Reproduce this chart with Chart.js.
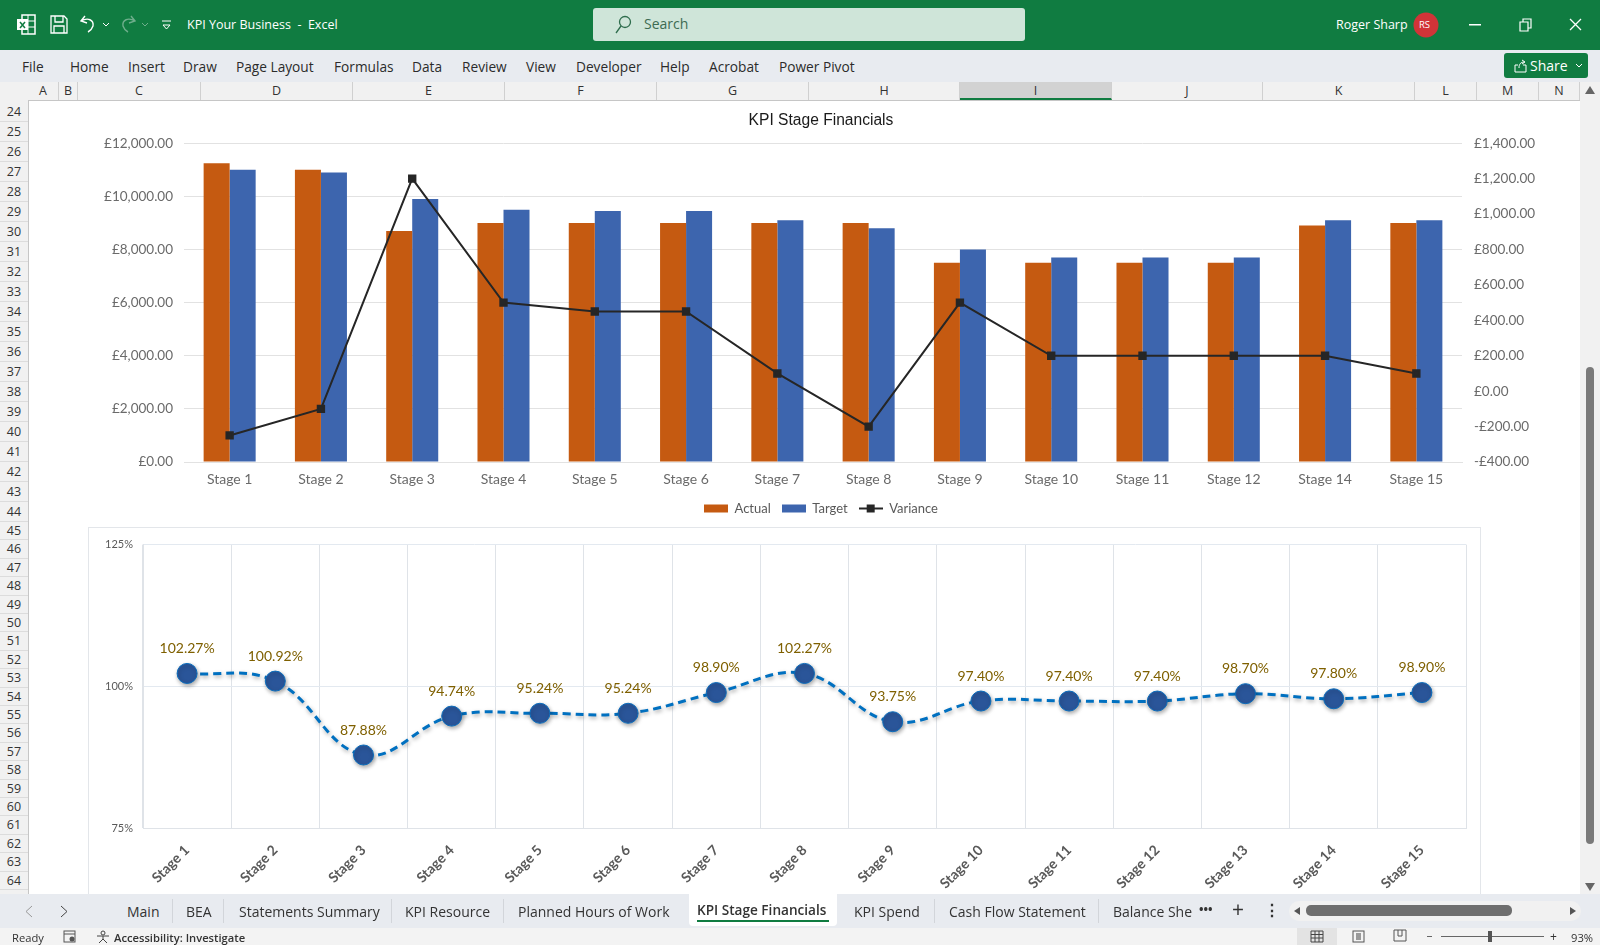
<!DOCTYPE html>
<html>
<head>
<meta charset="utf-8">
<title>KPI Stage Financials</title>
<script src="https://cdn.jsdelivr.net/npm/chart.js@4"></script>
<style>
html,body{margin:0;padding:0;background:#fff;}
body{position:relative;width:1600px;height:945px;overflow:hidden;font-family:"Open Sans",sans-serif;color:#333;}
.box{position:absolute;}
.t{position:absolute;white-space:nowrap;line-height:20px;font-size:14px;}
#top{left:0;top:0;width:1600px;height:50px;background:#107c41;}
#top .t{color:#fff;}
#ribbon{left:0;top:50px;width:1600px;height:32px;background:#e8ebf0;}
#ribbon .t{top:7px;font-size:13.7px;color:#2b2b2b;}
#search{left:593px;top:8px;width:432px;height:33px;background:#cfe5d9;border-radius:3px;}
#share{left:1504px;top:53px;width:84px;height:25px;background:#107c41;border-radius:3px;color:#fff;}
#cols{left:0;top:82px;width:1600px;height:18px;background:#f1f1f1;border-bottom:1px solid #c6c6c6;}
.col{position:absolute;top:0;height:18px;line-height:18px;font-size:12.5px;text-align:center;color:#333;border-right:1px solid #d0d0d0;box-sizing:border-box;}
#rows{left:0;top:100px;width:28px;height:794px;background:#f1f1f1;border-right:1px solid #c6c6c6;overflow:hidden;}
.row{position:absolute;left:0;width:28px;font-size:12.5px;text-align:center;color:#333;border-bottom:1px solid #dcdcdc;box-sizing:border-box;}
#vbar{left:1580px;top:82px;width:20px;height:812px;background:#f1f1f1;}
#thumb{left:1586px;top:367px;width:8px;height:477px;background:#7a7a7a;border-radius:4px;}
#c1wrap{left:30px;top:100px;width:1582px;height:425px;}
#c2wrap{left:88px;top:527px;width:1393px;height:372px;border:1px solid #e3e6ea;box-sizing:border-box;background:#fff;}
canvas{display:block;}
#tabs{left:0;top:894px;width:1600px;height:34px;background:#e8ebf0;}
#tabs .t{top:8px;font-size:14px;color:#333;}
#active{left:689px;top:-1px;width:148px;height:33px;background:#fff;border-radius:0 0 4px 4px;}
#status{left:0;top:928px;width:1600px;height:17px;background:#f3f3f3;}
#status .t{top:0;font-size:11.2px;color:#333;}
.sep{position:absolute;top:5px;width:1px;height:24px;background:#d2d5da;}
</style>
</head>
<body>

<div class="box" id="cols"></div>
<div class="box" id="rows"></div>
<div class="box" id="c1wrap"><canvas id="financials" width="1582" height="425"></canvas></div>
<div class="box" id="c2wrap"><canvas id="stages" width="1391" height="370"></canvas></div>
<div class="box" id="vbar"></div>
<div class="box" id="thumb"></div>
<svg class="box" style="left:1584px;top:85px" width="12" height="10"><path d="M6 1L11 9H1Z" fill="#666"/></svg>
<svg class="box" style="left:1584px;top:882px" width="12" height="10"><path d="M6 9L11 1H1Z" fill="#666"/></svg>

<div class="box" id="top">
  <svg class="box" style="left:16px;top:14px" width="20" height="22"><rect x="6" y="1" width="13" height="19" fill="none" stroke="#fff" stroke-width="1.5"/><path d="M6 7H19M6 13H19M12 1V20" stroke="#fff"/><rect x="1" y="5" width="11" height="11" fill="#fff"/><path d="M4 8l5 6M9 8l-5 6" stroke="#107c41" stroke-width="1.5"/></svg>
  <svg class="box" style="left:50px;top:15px" width="18" height="19"><path d="M1 1H14L17 4V18H1ZM5 1V7H13V1M4 18V11H14V18" fill="none" stroke="#fff" stroke-width="1.3"/></svg>
  <svg class="box" style="left:79px;top:14px" width="18" height="20"><path d="M6 2L2 7L8 9M2 7C9 3 15 6 14 12C13 15 11 17 9 18" fill="none" stroke="#fff" stroke-width="1.4"/></svg>
  <svg class="box" style="left:102px;top:22px" width="8" height="6"><path d="M1 1L4 4L7 1" fill="none" stroke="#fff"/></svg>
  <svg class="box" style="left:119px;top:14px" width="18" height="20"><path d="M12 2L16 7L10 9M16 7C9 3 3 6 4 12C5 15 7 17 9 18" fill="none" stroke="#6fae8c" stroke-width="1.4"/></svg>
  <svg class="box" style="left:141px;top:22px" width="8" height="6"><path d="M1 1L4 4L7 1" fill="none" stroke="#6fae8c"/></svg>
  <svg class="box" style="left:161px;top:20px" width="11" height="11"><path d="M1 1H10M2 5L5.500 9L9 5Z" fill="none" stroke="#fff"/></svg>
  <div class="t" style="left:187px;top:15px;font-size:12.5px">KPI Your Business&nbsp; - &nbsp;Excel</div>
  <div class="box" id="search">
    <svg class="box" style="left:21px;top:7px" width="18" height="20"><circle cx="11" cy="7" r="5.500" fill="none" stroke="#2f6d4d" stroke-width="1.3"/><path d="M7 11L2 18" stroke="#2f6d4d" stroke-width="1.3"/></svg>
    <div class="t" style="left:51px;top:6px;color:#3d6b52">Search</div>
  </div>
  <div class="t" style="left:1336px;top:15px;font-size:12.5px">Roger Sharp</div>
  <svg class="box" style="left:1413px;top:12px" width="26" height="26"><circle cx="13" cy="13" r="12.500" fill="#d13438"/></svg>
  <div class="t" style="left:1419px;top:15px;font-size:9.5px">RS</div>
  <svg class="box" style="left:1469px;top:24px" width="12" height="2"><rect width="12" height="1.500" fill="#fff"/></svg>
  <svg class="box" style="left:1519px;top:18px" width="13" height="14"><path d="M1 4H9V13H1ZM4 4V1H12V10H9" fill="none" stroke="#fff" stroke-width="1.200"/></svg>
  <svg class="box" style="left:1569px;top:18px" width="13" height="13"><path d="M1 1L12 12M12 1L1 12" stroke="#fff" stroke-width="1.300"/></svg>
</div>

<div class="box" id="ribbon">
  <div class="t" style="left:22px">File</div>
  <div class="t" style="left:70px">Home</div>
  <div class="t" style="left:128px">Insert</div>
  <div class="t" style="left:183px">Draw</div>
  <div class="t" style="left:236px">Page Layout</div>
  <div class="t" style="left:334px">Formulas</div>
  <div class="t" style="left:412px">Data</div>
  <div class="t" style="left:462px">Review</div>
  <div class="t" style="left:526px">View</div>
  <div class="t" style="left:576px">Developer</div>
  <div class="t" style="left:660px">Help</div>
  <div class="t" style="left:709px">Acrobat</div>
  <div class="t" style="left:779px">Power Pivot</div>
</div>
<div class="box" id="share">
  <svg class="box" style="left:10px;top:6px" width="14" height="14"><path d="M1 6H4M9 6H12V13H1V6M5 9C5 5 7 3 10 3M8 1L11 3L8 5" fill="none" stroke="#fff"/></svg>
  <div class="t" style="left:26px;top:3px;color:#fff">Share</div>
  <svg class="box" style="left:71px;top:10px" width="8" height="6"><path d="M1 1L4 4L7 1" fill="none" stroke="#fff"/></svg>
</div>

<div class="box" id="tabs">
  <svg class="box" style="left:25px;top:11px" width="8" height="13"><path d="M7 1L1 6.500L7 12" fill="none" stroke="#999"/></svg>
  <svg class="box" style="left:60px;top:11px" width="8" height="13"><path d="M1 1L7 6.500L1 12" fill="none" stroke="#444"/></svg>
  <div class="t" style="left:127px">Main</div><div class="sep" style="left:172px"></div>
  <div class="t" style="left:186px">BEA</div><div class="sep" style="left:223px"></div>
  <div class="t" style="left:239px">Statements Summary</div><div class="sep" style="left:391px"></div>
  <div class="t" style="left:405px">KPI Resource</div><div class="sep" style="left:503px"></div>
  <div class="t" style="left:518px">Planned Hours of Work</div>
  <div class="box" id="active"></div>
  <div class="t" style="left:697px;top:6px;font-weight:600;font-size:13.6px">KPI Stage Financials</div>
  <div class="box" style="left:697px;top:26px;width:132px;height:2px;background:#107c41"></div>
  <div class="t" style="left:854px">KPI Spend</div><div class="sep" style="left:934px"></div>
  <div class="t" style="left:949px">Cash Flow Statement</div><div class="sep" style="left:1098px"></div>
  <div class="t" style="left:1113px">Balance She</div>
  <div class="t" style="left:1199px;top:6px;font-size:12px;font-weight:700">•••</div>
  <div class="t" style="left:1232px;top:5px;font-size:21px">+</div>
  <div class="t" style="left:1264px;top:6px;font-size:16px;font-weight:700">⋮</div>
  <div class="box" style="left:1289px;top:7px;width:292px;height:20px;background:#f1f1f1;border-radius:10px"></div>
  <div class="box" style="left:1306px;top:11px;width:206px;height:11px;background:#6e6e6e;border-radius:5px"></div>
  <svg class="box" style="left:1293px;top:12px" width="8" height="10"><path d="M7 1L1 5L7 9Z" fill="#555"/></svg>
  <svg class="box" style="left:1569px;top:12px" width="8" height="10"><path d="M1 1L7 5L1 9Z" fill="#555"/></svg>
</div>

<div class="box" id="status">
  <div class="t" style="left:12px">Ready</div>
  <svg class="box" style="left:63px;top:2px" width="14" height="13"><rect x="1" y="1" width="11" height="11" fill="none" stroke="#555"/><path d="M1 4H12" stroke="#555"/><circle cx="9" cy="9" r="2.500" fill="#555"/></svg>
  <svg class="box" style="left:96px;top:2px" width="14" height="14"><circle cx="7" cy="3" r="2" fill="none" stroke="#444"/><path d="M1 6H13M7 6V9L3 13M7 9L11 13" fill="none" stroke="#444"/></svg>
  <div class="t" style="left:114px;font-weight:600">Accessibility: Investigate</div>
  <div class="box" style="left:1297px;top:0;width:40px;height:17px;background:#e3e3e3"></div>
  <svg class="box" style="left:1310px;top:2px" width="14" height="13"><path d="M1 1H13V12H1ZM1 4.500H13M1 8H13M5 1V12M9 1V12" fill="none" stroke="#444"/></svg>
  <svg class="box" style="left:1352px;top:2px" width="13" height="13"><rect x="1" y="1" width="11" height="11" fill="none" stroke="#555"/><rect x="4" y="3" width="5" height="7" fill="#999"/></svg>
  <svg class="box" style="left:1393px;top:1px" width="14" height="13"><path d="M1 1H13V12H1ZM5 1V7H9V1" fill="none" stroke="#555"/></svg>
  <div class="box" style="left:1427px;top:8px;width:5px;height:1px;background:#666"></div>
  <div class="box" style="left:1441px;top:8px;width:103px;height:1px;background:#666"></div>
  <div class="box" style="left:1488px;top:3px;width:4px;height:11px;background:#555"></div>
  <div class="t" style="left:1550px;top:-1px;font-size:12px">+</div>
  <div class="t" style="left:1571px">93%</div>
</div>

<script>
const stageLabels = ["Stage 1", "Stage 2", "Stage 3", "Stage 4", "Stage 5", "Stage 6", "Stage 7", "Stage 8", "Stage 9", "Stage 10", "Stage 11", "Stage 12", "Stage 14", "Stage 15"];
const actual = [11250, 11000, 8700, 9000, 9000, 9000, 9000, 9000, 7500, 7500, 7500, 7500, 8900, 9000];
const target = [11000, 10900, 9900, 9500, 9450, 9450, 9100, 8800, 8000, 7700, 7700, 7700, 9100, 9100];
const variance = [-250, -100, 1200, 500, 450, 450, 100, -200, 500, 200, 200, 200, 200, 100];

const kpiLabels = ["Stage 1", "Stage 2", "Stage 3", "Stage 4", "Stage 5", "Stage 6", "Stage 7", "Stage 8", "Stage 9", "Stage 10", "Stage 11", "Stage 12", "Stage 13", "Stage 14", "Stage 15"];
const kpiPercent = [102.27, 100.92, 87.88, 94.74, 95.24, 95.24, 98.90, 102.27, 93.75, 97.40, 97.40, 97.40, 98.70, 97.80, 98.90];
const kpiTicks = [75, 100, 125];

const colNames = ["A", "B", "C", "D", "E", "F", "G", "H", "I", "J", "K", "L", "M", "N"];
const colEdges = [28, 59, 78, 201, 353, 505, 657, 809, 960, 1112, 1263, 1415, 1477, 1539, 1580];

// sheet headers
const cols = document.getElementById("cols");
colNames.forEach((name, i) => {
  const d = document.createElement("div");
  d.className = "col";
  d.textContent = name;
  d.style.left = colEdges[i] + "px";
  d.style.width = colEdges[i + 1] - colEdges[i] + "px";
  if (name === "I") {
    d.style.background = "#d2d2d2";
    d.style.borderBottom = "2px solid #107c41";
  }
  cols.appendChild(d);
});
// rows 24-44 are taller than the ones below
const rows = document.getElementById("rows");
let rowTop = 2;
for (let r = 24; r <= 65; r++) {
  const h = r <= 44 ? 20 : 18.4;
  const d = document.createElement("div");
  d.className = "row";
  d.textContent = r;
  d.style.top = rowTop + "px";
  d.style.height = h + "px";
  d.style.lineHeight = h + "px";
  rows.appendChild(d);
  rowTop += h;
}

function pounds(v) {
  const s = "£" + Math.abs(v).toLocaleString("en-GB", { minimumFractionDigits: 2 });
  return v < 0 ? "-" + s : s;
}

function swatch(draw) {
  const c = document.createElement("canvas");
  c.width = 24;
  c.height = 10;
  draw(c.getContext("2d"));
  return c;
}

const ORANGE = "#c55a11";
const BLUE = "#3d65ae";
const DARK = "#262626";
const legendIcons = [
  swatch((g) => { g.fillStyle = ORANGE; g.fillRect(0, 1, 24, 8); }),
  swatch((g) => { g.fillStyle = BLUE; g.fillRect(0, 1, 24, 8); }),
  swatch((g) => { g.fillStyle = DARK; g.fillRect(0, 4, 24, 2); g.fillRect(8, 1, 8, 8); }),
];

const axisFont = { family: "Lato", size: 13.5 };

new Chart(document.getElementById("financials"), {
  data: {
    labels: stageLabels,
    datasets: [
      { type: "line", label: "Variance", data: variance, yAxisID: "y2", order: 0, borderColor: DARK, borderWidth: 2, tension: 0,
        pointStyle: "rect", pointRadius: 4.5, pointBackgroundColor: DARK, pointBorderColor: DARK },
      { type: "bar", label: "Actual", data: actual, yAxisID: "y", order: 1, backgroundColor: ORANGE, categoryPercentage: 0.57, barPercentage: 1 },
      { type: "bar", label: "Target", data: target, yAxisID: "y", order: 2, backgroundColor: BLUE, categoryPercentage: 0.57, barPercentage: 1 },
    ],
  },
  options: {
    responsive: false,
    animation: false,
    layout: { padding: 0 },
    plugins: {
      tooltip: { enabled: false },
      title: {
        display: true,
        text: "KPI Stage Financials",
        color: "#1a1a1a",
        font: { family: "Liberation Sans", size: 15.6, weight: "normal" },
        padding: { top: 11, bottom: 13.5 },
      },
      legend: {
        position: "bottom",
        labels: {
          color: "#595959",
          font: { family: "Lato", size: 13 },
          usePointStyle: true,
          pointStyleWidth: 24,
          padding: 11,
          generateLabels: () => ["Actual", "Target", "Variance"].map((text, i) => ({
            text, pointStyle: legendIcons[i], fontColor: "#595959", lineWidth: 0, hidden: false,
          })),
        },
      },
    },
    scales: {
      x: {
        offset: true,
        grid: { display: false },
        border: { color: "#e2e2e2" },
        ticks: { color: "#6a6a6a", font: { family: "Lato", size: 14 }, maxRotation: 0, autoSkip: false, padding: 1 },
        afterFit: (s) => { s.height = 29; },
      },
      y: {
        position: "left",
        min: 0, max: 12000,
        ticks: { stepSize: 2000, color: "#6a6a6a", font: axisFont, callback: pounds, padding: 11 },
        grid: { color: "#e2e2e2", drawTicks: false },
        border: { display: false },
        afterFit: (s) => { s.width = 154; },
      },
      y2: {
        position: "right",
        min: -400, max: 1400,
        ticks: { stepSize: 200, color: "#6a6a6a", font: axisFont, callback: pounds, padding: 12 },
        grid: { display: false, drawTicks: false },
        border: { display: false },
        afterFit: (s) => { s.width = 150; },
      },
    },
  },
});

const pointLabels = {
  id: "pointLabels",
  afterDatasetsDraw(chart) {
    const g = chart.ctx;
    g.save();
    g.font = "14px Lato";
    g.fillStyle = "#7f6000";
    g.textAlign = "center";
    g.textBaseline = "middle";
    chart.getDatasetMeta(0).data.forEach((pt, i) => {
      g.fillText(kpiPercent[i].toFixed(2) + "%", pt.x, pt.y - 25);
    });
    g.restore();
  },
};

const lineShadow = {
  id: "lineShadow",
  beforeDatasetDraw(chart) {
    const g = chart.ctx;
    g.save();
    g.shadowColor = "rgba(0,0,0,0.35)";
    g.shadowBlur = 4;
    g.shadowOffsetX = 1;
    g.shadowOffsetY = 2;
  },
  afterDatasetDraw(chart) {
    chart.ctx.restore();
  },
};

new Chart(document.getElementById("stages"), {
  type: "line",
  data: {
    labels: kpiLabels,
    datasets: [{
      data: kpiPercent,
      borderColor: "#0070c0",
      borderWidth: 3,
      borderDash: [8, 5],
      tension: 0.4,
      pointRadius: 10,
      pointBackgroundColor: "#2a5599",
      pointBorderColor: "#0a6cbc",
      pointBorderWidth: 1,
    }],
  },
  options: {
    responsive: false,
    animation: false,
    layout: { padding: { top: 14, right: 14 } },
    plugins: { legend: { display: false }, tooltip: { enabled: false } },
    scales: {
      x: {
        offset: true,
        grid: { color: "#dfe3e8", offset: true, drawTicks: false },
        border: { color: "#dfe3e8" },
        ticks: { color: "#595959", font: { family: "Lato", size: 14, weight: "bold" }, minRotation: 45, maxRotation: 45, autoSkip: false, padding: 14 },
        afterFit: (s) => { s.height = 70; },
      },
      y: {
        min: 75, max: 125,
        afterBuildTicks: (s) => { s.ticks = kpiTicks.map((value) => ({ value })); },
        ticks: { color: "#595959", font: { family: "Lato", size: 11 }, callback: (v) => v + "%", padding: 10 },
        grid: { color: "#e3e9f0", drawTicks: false },
        border: { color: "#dfe3e8" },
        afterFit: (s) => { s.width = 54; },
      },
    },
  },
  plugins: [lineShadow, pointLabels],
});
</script>
</body>
</html>
